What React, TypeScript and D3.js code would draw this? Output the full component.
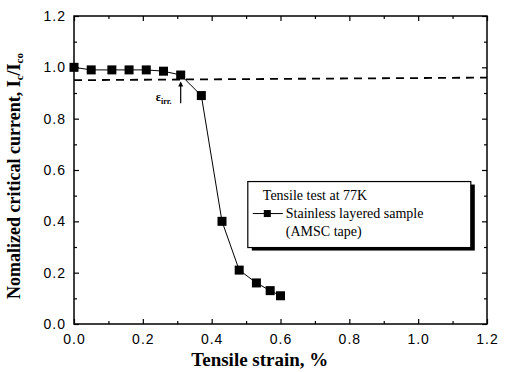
import { useEffect, useRef } from 'react';
import * as d3 from 'd3';

// strain (%) vs normalized Ic
const strain = [0.0, 0.05, 0.11, 0.16, 0.21, 0.26, 0.31, 0.37, 0.43, 0.48, 0.53, 0.57, 0.6];
const icNorm = [1.0, 0.99, 0.99, 0.99, 0.99, 0.985, 0.97, 0.89, 0.4, 0.21, 0.16, 0.13, 0.11];
// the 95% criterion line, slightly tilted in the scan
const dashX = [0.0, 1.2];
const dashY = [0.95, 0.96];
const xTicks = [0, 0.2, 0.4, 0.6, 0.8, 1.0, 1.2];
const yTicks = [0, 0.2, 0.4, 0.6, 0.8, 1.0, 1.2];
const legendLines = ['Tensile test at 77K', 'Stainless layered sample', '(AMSC tape)'];
const irrStrain = 0.31;

export default function App() {
    const svgRef = useRef<SVGSVGElement>(null);

    useEffect(() => {
        const width = 510;
        const height = 372;
        const margin = { top: 16, right: 23, bottom: 48, left: 74 };
        const innerWidth = width - margin.left - margin.right;
        const innerHeight = height - margin.top - margin.bottom;

        const svg = d3.select(svgRef.current);
        svg.selectAll('*').remove();

        const g = svg.append('g').attr('transform', `translate(${margin.left},${margin.top})`);

        const x = d3.scaleLinear().domain([0, 1.2]).range([0, innerWidth]);
        const y = d3.scaleLinear().domain([0, 1.2]).range([innerHeight, 0]);

        const sans = 'Liberation Sans, Arial, sans-serif';
        const serif = 'Liberation Serif, Times New Roman, serif';

        // frame
        g.append('rect')
            .attr('width', innerWidth)
            .attr('height', innerHeight)
            .attr('fill', 'none')
            .attr('stroke', '#000')
            .attr('stroke-width', 1.5);

        const minor = d3.range(0.1, 1.2, 0.2);

        // ticks pointing inward on all four sides
        const styleAxis = (sel: any) => {
            sel.select('.domain').remove();
            sel.selectAll('line').attr('stroke', '#000').attr('stroke-width', 1.2);
        };
        const styleLabels = (sel: any) =>
            sel.selectAll('text')
                .style('font-family', sans)
                .style('font-size', '14px')
                .style('letter-spacing', '1px')
                .attr('fill', '#000');

        g.append('g')
            .attr('transform', `translate(0,${innerHeight})`)
            .call(d3.axisBottom(x).tickValues(xTicks).tickSize(-5).tickPadding(10).tickFormat(d3.format('.1f')))
            .call(styleAxis)
            .call(styleLabels);
        g.append('g')
            .attr('transform', `translate(0,${innerHeight})`)
            .call(d3.axisBottom(x).tickValues(minor).tickSize(-3).tickFormat(() => ''))
            .call(styleAxis);
        g.append('g')
            .call(d3.axisTop(x).tickValues(xTicks).tickSize(-5).tickFormat(() => ''))
            .call(styleAxis);
        g.append('g')
            .call(d3.axisTop(x).tickValues(minor).tickSize(-3).tickFormat(() => ''))
            .call(styleAxis);

        g.append('g')
            .call(d3.axisLeft(y).tickValues(yTicks).tickSize(-5).tickPadding(8).tickFormat(d3.format('.1f')))
            .call(styleAxis)
            .call(styleLabels);
        g.append('g')
            .call(d3.axisLeft(y).tickValues(minor).tickSize(-3).tickFormat(() => ''))
            .call(styleAxis);
        g.append('g')
            .attr('transform', `translate(${innerWidth},0)`)
            .call(d3.axisRight(y).tickValues(yTicks).tickSize(-5).tickFormat(() => ''))
            .call(styleAxis);
        g.append('g')
            .attr('transform', `translate(${innerWidth},0)`)
            .call(d3.axisRight(y).tickValues(minor).tickSize(-3).tickFormat(() => ''))
            .call(styleAxis);

        // dashed reference line
        g.append('path')
            .datum(dashX.map((d, i) => [d, dashY[i]] as [number, number]))
            .attr('fill', 'none')
            .attr('stroke', '#000')
            .attr('stroke-width', 1.8)
            .attr('stroke-dasharray', '8 6')
            .attr('d', d3.line().x(d => x(d[0])).y(d => y(d[1])));

        // data line + markers
        const pts = strain.map((s, i) => [s, icNorm[i]] as [number, number]);
        g.append('path')
            .datum(pts)
            .attr('fill', 'none')
            .attr('stroke', '#000')
            .attr('stroke-width', 1)
            .attr('d', d3.line().x(d => x(d[0])).y(d => y(d[1])));
        g.selectAll('.pt')
            .data(pts)
            .enter()
            .append('rect')
            .attr('class', 'pt')
            .attr('x', d => x(d[0]) - 4.5)
            .attr('y', d => y(d[1]) - 4.5)
            .attr('width', 9)
            .attr('height', 9)
            .attr('fill', '#000');

        // irreversible strain arrow
        const ax = x(irrStrain);
        g.append('line')
            .attr('x1', ax).attr('x2', ax)
            .attr('y1', y(0.86)).attr('y2', y(0.94))
            .attr('stroke', '#000').attr('stroke-width', 1.2);
        g.append('path')
            .attr('d', `M${ax - 2.5},${y(0.925)} L${ax},${y(0.945)} L${ax + 2.5},${y(0.925)} Z`)
            .attr('fill', '#000');
        const eps = g.append('text')
            .attr('x', ax - 17)
            .attr('y', y(0.87))
            .attr('text-anchor', 'middle')
            .style('font-family', serif)
            .style('font-size', '12px')
            .style('font-weight', 'bold');
        eps.append('tspan').text('ε');
        eps.append('tspan').attr('dy', 3).style('font-size', '8px').text('irr.');

        // legend
        const lg = g.append('g').attr('transform', `translate(${x(0.505)},${y(0.555)})`);
        const lw = 223;
        const lh = 66;
        lg.append('rect').attr('x', 4).attr('y', 3).attr('width', lw).attr('height', lh).attr('fill', '#000');
        lg.append('rect').attr('width', lw).attr('height', lh).attr('fill', '#fff').attr('stroke', '#000').attr('stroke-width', 1.2);
        lg.append('text')
            .attr('x', 15).attr('y', 18)
            .style('font-family', serif).style('font-size', '14px')
            .text(legendLines[0]);
        lg.append('line').attr('x1', 5).attr('x2', 35).attr('y1', 32).attr('y2', 32).attr('stroke', '#000');
        lg.append('rect').attr('x', 16).attr('y', 28.5).attr('width', 7).attr('height', 7).attr('fill', '#000');
        lg.append('text')
            .attr('x', 38).attr('y', 36)
            .style('font-family', serif).style('font-size', '14px')
            .text(legendLines[1]);
        lg.append('text')
            .attr('x', 38).attr('y', 54)
            .style('font-family', serif).style('font-size', '14px')
            .text(legendLines[2]);

        // axis titles
        g.append('text')
            .attr('x', x(0.54))
            .attr('y', innerHeight + 42)
            .attr('text-anchor', 'middle')
            .style('font-family', serif).style('font-size', '19px').style('font-weight', 'bold')
            .text('Tensile strain, %');

        const yl = g.append('text')
            .attr('transform', `translate(-54,${y(0.6) + 6}) rotate(-90)`)
            .attr('text-anchor', 'middle')
            .style('font-family', serif).style('font-size', '18px').style('font-weight', 'bold');
        yl.append('tspan').text('Nomalized critical current, I');
        yl.append('tspan').attr('dy', 3).style('font-size', '11px').text('c');
        yl.append('tspan').attr('dy', -3).text('/I');
        yl.append('tspan').attr('dy', 3).style('font-size', '11px').text('co');
    }, []);

    return (
        <svg
            ref={svgRef}
            width={510}
            height={372}
            style={{ position: 'absolute', left: 0, top: 0, background: '#fff' }}
        />
    );
}
